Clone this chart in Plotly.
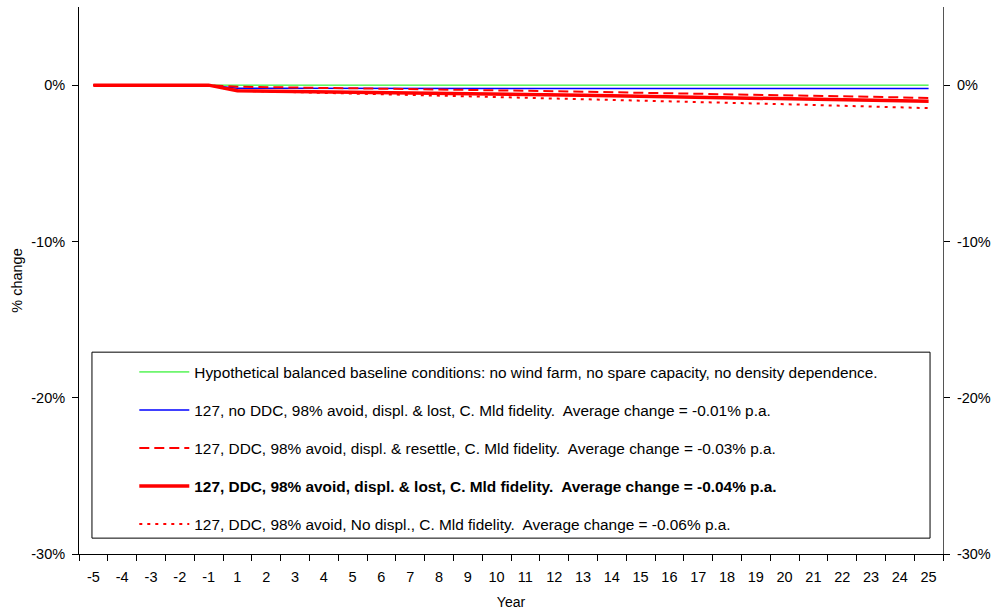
import plotly.graph_objects as go

years = ["-5", "-4", "-3", "-2", "-1"] + [str(i) for i in range(1, 26)]

baseline = [0.0] * 30
no_ddc_lost = [0, 0, 0, 0, 0,
               -0.20, -0.20, -0.20, -0.20, -0.20, -0.20, -0.20, -0.20, -0.20, -0.20,
               -0.20, -0.20, -0.21, -0.21, -0.21, -0.21, -0.21, -0.21, -0.21, -0.21,
               -0.21, -0.22, -0.22, -0.22, -0.22]
ddc_resettle = [0, 0, 0, 0, 0,
                -0.10, -0.14, -0.16, -0.18, -0.20, -0.22, -0.24, -0.27, -0.30, -0.33,
                -0.36, -0.39, -0.42, -0.45, -0.48, -0.51, -0.54, -0.57, -0.60, -0.63,
                -0.66, -0.70, -0.74, -0.78, -0.83]
ddc_lost = [0, 0, 0, 0, 0,
            -0.36, -0.38, -0.40, -0.42, -0.44, -0.46, -0.48, -0.51, -0.54, -0.57,
            -0.60, -0.62, -0.65, -0.68, -0.71, -0.74, -0.77, -0.80, -0.83, -0.86,
            -0.89, -0.92, -0.95, -0.99, -1.03]
ddc_no_displ = [0, 0, 0, 0, 0,
                -0.36, -0.40, -0.44, -0.49, -0.53, -0.57, -0.61, -0.66, -0.71, -0.76,
                -0.81, -0.85, -0.90, -0.95, -1.00, -1.04, -1.09, -1.13, -1.18, -1.22,
                -1.27, -1.31, -1.36, -1.41, -1.47]

ytick_vals = [0, -10, -20, -30]
ytick_text = ["0%", "-10%", "-20%", "-30%"]

names = [
    "Hypothetical balanced baseline conditions: no wind farm, no spare capacity, no density dependence.",
    "127, no DDC, 98% avoid, displ. & lost, C. Mld fidelity.\u00a0 Average change = -0.01% p.a.",
    "127, DDC, 98% avoid, displ. & resettle, C. Mld fidelity.\u00a0 Average change = -0.03% p.a.",
    "<b>127, DDC, 98% avoid, displ. & lost, C. Mld fidelity.\u00a0 Average change = -0.04% p.a.</b>",
    "127, DDC, 98% avoid, No displ., C. Mld fidelity.\u00a0 Average change = -0.06% p.a.",
]
series = [baseline, no_ddc_lost, ddc_resettle, ddc_lost, ddc_no_displ]
styles = [
    dict(color="#00ee00", width=1),
    dict(color="#0000ff", width=1.5),
    dict(color="#ff0000", width=2, dash="10px,5px"),
    dict(color="#ff0000", width=3.5),
    dict(color="#ff0000", width=2, dash="3px,5px"),
]

fig = go.Figure()
for i, (nm, ys, st) in enumerate(zip(names, series, styles)):
    fig.add_trace(go.Scatter(x=years, y=ys, mode="lines", name=nm, line=st,
                             legendgroup=f"g{i}"))

# invisible trace to activate right axis
fig.add_trace(go.Scatter(x=years, y=baseline, yaxis="y2", mode="lines",
                         line=dict(width=0), showlegend=False, hoverinfo="skip"))

FAM = "Liberation Sans, Arial, sans-serif"
tickfont = dict(family=FAM, size=14.5, color="black")

fig.update_layout(
    width=998, height=616,
    margin=dict(l=79, r=51, t=7, b=62),
    paper_bgcolor="white", plot_bgcolor="white",
    font=dict(family=FAM, size=14, color="black"),
    showlegend=True,
    legend=dict(x=0.064, y=0.363, xanchor="left", yanchor="top",
                bgcolor="rgba(0,0,0,0)", borderwidth=0,
                tracegroupgap=15, traceorder="grouped", itemwidth=50,
                font=dict(family=FAM, size=15.4, color="black")),
    xaxis=dict(type="category", categoryorder="array", categoryarray=years,
               range=[-0.5, 29.5],
               showline=True, linecolor="black", linewidth=1,
               ticks="outside", ticklen=6, tickcolor="black", tickson="boundaries",
               ticklabelstandoff=10,
               showgrid=False, zeroline=False,
               title=dict(text="Year", standoff=12, font=dict(family=FAM, size=14)),
               tickfont=tickfont),
    yaxis=dict(range=[-30, 5], tickvals=ytick_vals, ticktext=ytick_text,
               showline=True, linecolor="black", linewidth=1,
               ticks="outside", ticklen=6, tickcolor="black",
               ticklabelstandoff=4,
               showgrid=False, zeroline=False,
               title=dict(text="% change", standoff=5, font=dict(family=FAM, size=14.5)),
               tickfont=tickfont),
    yaxis2=dict(range=[-30, 5], tickvals=ytick_vals, ticktext=ytick_text,
                overlaying="y", side="right", anchor="x",
                showline=True, linecolor="#555555", linewidth=1,
                ticks="outside", ticklen=6, tickcolor="black",
                ticklabelstandoff=4,
                showgrid=False, zeroline=False, tickfont=tickfont),
    shapes=[dict(type="rect", xref="paper", yref="paper",
                 x0=0.015, x1=0.985, y0=0.029, y1=0.369,
                 line=dict(color="black", width=1), fillcolor="rgba(0,0,0,0)")],
)

fig.write_html("out.html")
